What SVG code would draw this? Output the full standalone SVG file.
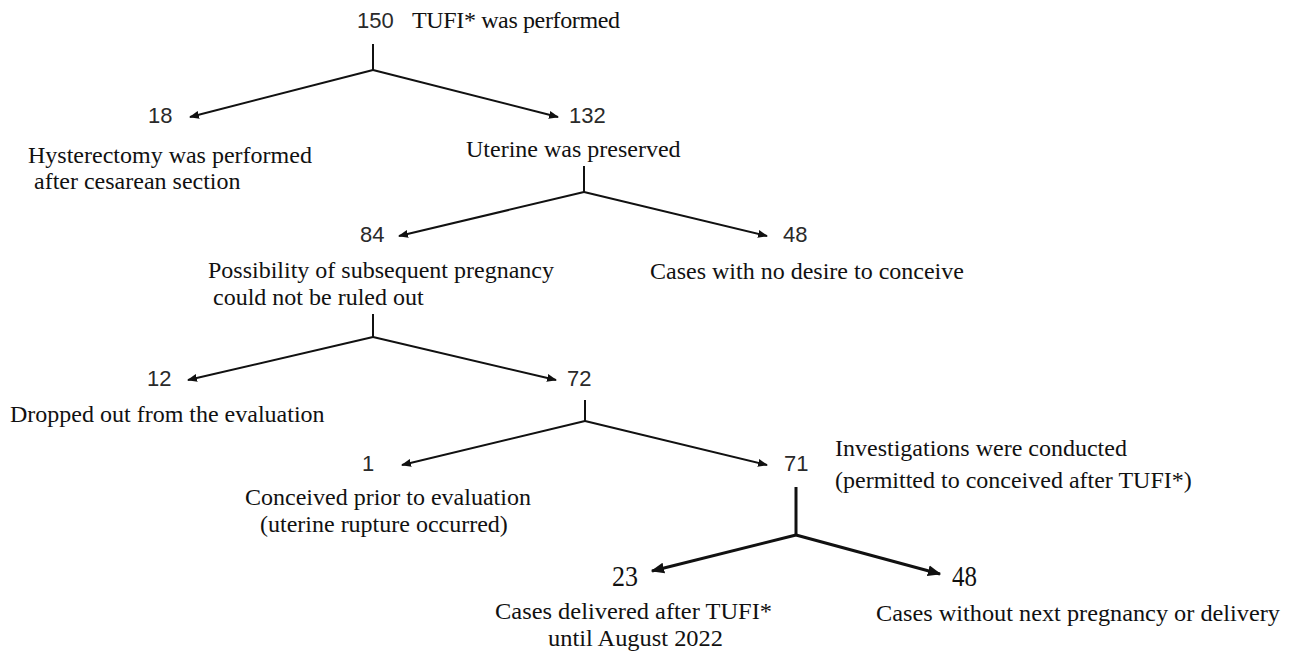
<svg xmlns="http://www.w3.org/2000/svg" width="1295" height="653" viewBox="0 0 1295 653">
<style>
.n{font-family:"Liberation Sans","DejaVu Sans",sans-serif;font-size:22px;fill:#2a2a2a}
.ns{font-family:"Liberation Serif",serif;font-size:30px;fill:#111}
.t{font-family:"Liberation Serif",serif;font-size:24px;fill:#111}
.c{fill:none;stroke:#111;stroke-width:2}
.c3{fill:none;stroke:#111;stroke-width:3}
</style>
<defs>
<marker id="a" viewBox="0 0 10 10" refX="9" refY="5" markerWidth="5" markerHeight="5" orient="auto" markerUnits="strokeWidth">
<path d="M0,1 L10,5 L0,9 z" fill="#111"/>
</marker>
<marker id="b" viewBox="0 0 10 10" refX="9" refY="5" markerWidth="4.5" markerHeight="4.5" orient="auto" markerUnits="strokeWidth">
<path d="M0,1 L10,5 L0,9 z" fill="#111"/>
</marker>
</defs>
<rect width="1295" height="653" fill="#fff"/>
<g id="connectors">
<path class="c" d="M373,44 V70"/>
<path class="c" d="M373,70 L190,117" marker-end="url(#a)"/>
<path class="c" d="M373,70 L558,117" marker-end="url(#a)"/>
<path class="c" d="M584,166 V192"/>
<path class="c" d="M584,192 L399,236" marker-end="url(#a)"/>
<path class="c" d="M584,192 L767,236" marker-end="url(#a)"/>
<path class="c" d="M373,314 V337"/>
<path class="c" d="M373,337 L188,380" marker-end="url(#a)"/>
<path class="c" d="M373,337 L556,380" marker-end="url(#a)"/>
<path class="c" d="M585,400 V421"/>
<path class="c" d="M585,421 L402,465" marker-end="url(#a)"/>
<path class="c" d="M585,421 L767,465" marker-end="url(#a)"/>
<path class="c3" d="M796,487 V535"/>
<path class="c3" d="M796,535 L652,571" marker-end="url(#b)"/>
<path class="c3" d="M796,535 L940,574" marker-end="url(#b)"/>
</g>
<g id="n150"><text class="n" x="357" y="28">150</text><text class="t" x="412" y="28" textLength="208">TUFI* was performed</text></g>
<g id="n18"><text class="n" x="148" y="123">18</text><text class="t" x="28" y="163">Hysterectomy was performed</text><text class="t" x="34" y="189">after cesarean section</text></g>
<g id="n132"><text class="n" x="569" y="123">132</text><text class="t" x="466" y="157">Uterine was preserved</text></g>
<g id="n84"><text class="n" x="360" y="242">84</text><text class="t" x="208" y="278">Possibility of subsequent pregnancy</text><text class="t" x="213" y="305">could not be ruled out</text></g>
<g id="n48a"><text class="n" x="783" y="242">48</text><text class="t" x="650" y="279">Cases with no desire to conceive</text></g>
<g id="n12"><text class="n" x="147" y="386">12</text><text class="t" x="10" y="422">Dropped out from the evaluation</text></g>
<g id="n72"><text class="n" x="567" y="386">72</text></g>
<g id="n1"><text class="n" x="362" y="471">1</text><text class="t" x="245" y="505">Conceived prior to evaluation</text><text class="t" x="260" y="532">(uterine rupture occurred)</text></g>
<g id="n71"><text class="n" x="784" y="471">71</text><text class="t" x="835" y="456">Investigations were conducted</text><text class="t" x="835" y="488">(permitted to conceived after TUFI*)</text></g>
<g id="n23"><text class="ns" x="612" y="586" textLength="26" lengthAdjust="spacingAndGlyphs">23</text><text class="t" x="495" y="619" textLength="277" lengthAdjust="spacingAndGlyphs">Cases delivered after TUFI*</text><text class="t" x="548" y="646" textLength="175" lengthAdjust="spacingAndGlyphs">until August 2022</text></g>
<g id="n48b"><text class="ns" x="952" y="586" textLength="25" lengthAdjust="spacingAndGlyphs">48</text><text class="t" x="876" y="621" textLength="404" lengthAdjust="spacingAndGlyphs">Cases without next pregnancy or delivery</text></g>
</svg>
